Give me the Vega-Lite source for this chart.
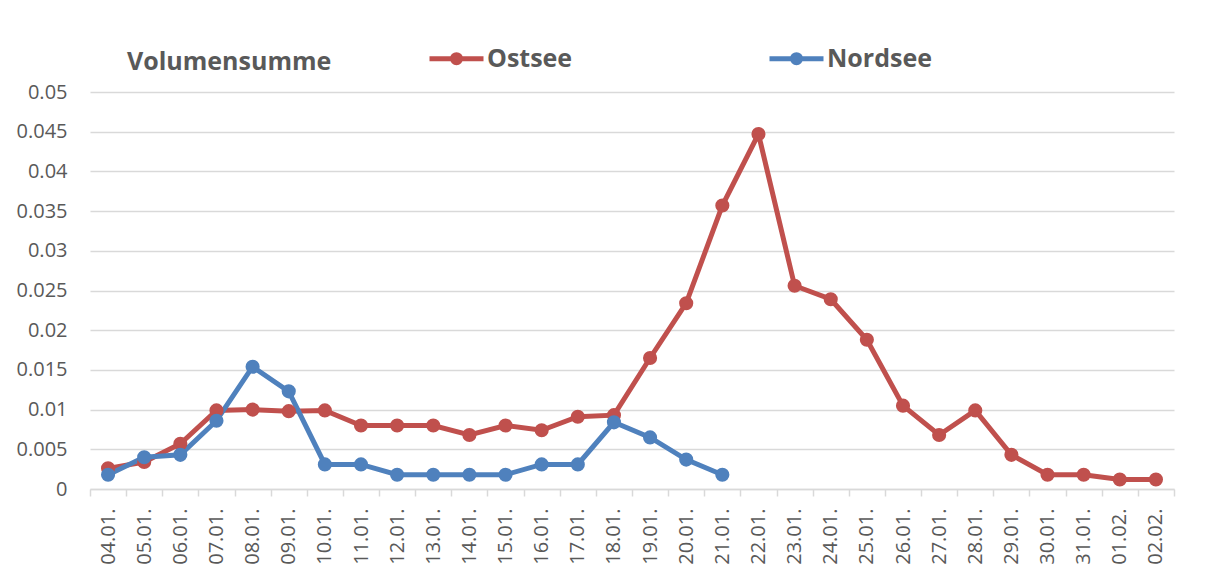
{
  "$schema": "https://vega.github.io/schema/vega-lite/v6.json",
  "autosize": "none",
  "width": 1084,
  "height": 397,
  "padding": {"left": 90, "top": 92, "right": 41, "bottom": 79},
  "background": "white",
  "config": {
    "view": {"stroke": null},
    "font": "Open Sans"
  },
  "data": {
    "values": [
      {"series": "Ostsee", "date": "04.01.", "value": 0.0026},
      {"series": "Ostsee", "date": "05.01.", "value": 0.0034},
      {"series": "Ostsee", "date": "06.01.", "value": 0.0057},
      {"series": "Ostsee", "date": "07.01.", "value": 0.0099},
      {"series": "Ostsee", "date": "08.01.", "value": 0.0100},
      {"series": "Ostsee", "date": "09.01.", "value": 0.0098},
      {"series": "Ostsee", "date": "10.01.", "value": 0.0099},
      {"series": "Ostsee", "date": "11.01.", "value": 0.0080},
      {"series": "Ostsee", "date": "12.01.", "value": 0.0080},
      {"series": "Ostsee", "date": "13.01.", "value": 0.0080},
      {"series": "Ostsee", "date": "14.01.", "value": 0.0068},
      {"series": "Ostsee", "date": "15.01.", "value": 0.0080},
      {"series": "Ostsee", "date": "16.01.", "value": 0.0074},
      {"series": "Ostsee", "date": "17.01.", "value": 0.0091},
      {"series": "Ostsee", "date": "18.01.", "value": 0.0093},
      {"series": "Ostsee", "date": "19.01.", "value": 0.0165},
      {"series": "Ostsee", "date": "20.01.", "value": 0.0234},
      {"series": "Ostsee", "date": "21.01.", "value": 0.0357},
      {"series": "Ostsee", "date": "22.01.", "value": 0.0447},
      {"series": "Ostsee", "date": "23.01.", "value": 0.0256},
      {"series": "Ostsee", "date": "24.01.", "value": 0.0239},
      {"series": "Ostsee", "date": "25.01.", "value": 0.0188},
      {"series": "Ostsee", "date": "26.01.", "value": 0.0105},
      {"series": "Ostsee", "date": "27.01.", "value": 0.0068},
      {"series": "Ostsee", "date": "28.01.", "value": 0.0099},
      {"series": "Ostsee", "date": "29.01.", "value": 0.0043},
      {"series": "Ostsee", "date": "30.01.", "value": 0.0018},
      {"series": "Ostsee", "date": "31.01.", "value": 0.0018},
      {"series": "Ostsee", "date": "01.02.", "value": 0.0012},
      {"series": "Ostsee", "date": "02.02.", "value": 0.0012},
      {"series": "Nordsee", "date": "04.01.", "value": 0.0018},
      {"series": "Nordsee", "date": "05.01.", "value": 0.0040},
      {"series": "Nordsee", "date": "06.01.", "value": 0.0043},
      {"series": "Nordsee", "date": "07.01.", "value": 0.0086},
      {"series": "Nordsee", "date": "08.01.", "value": 0.0154},
      {"series": "Nordsee", "date": "09.01.", "value": 0.0123},
      {"series": "Nordsee", "date": "10.01.", "value": 0.0031},
      {"series": "Nordsee", "date": "11.01.", "value": 0.0031},
      {"series": "Nordsee", "date": "12.01.", "value": 0.0018},
      {"series": "Nordsee", "date": "13.01.", "value": 0.0018},
      {"series": "Nordsee", "date": "14.01.", "value": 0.0018},
      {"series": "Nordsee", "date": "15.01.", "value": 0.0018},
      {"series": "Nordsee", "date": "16.01.", "value": 0.0031},
      {"series": "Nordsee", "date": "17.01.", "value": 0.0031},
      {"series": "Nordsee", "date": "18.01.", "value": 0.0084},
      {"series": "Nordsee", "date": "19.01.", "value": 0.0065},
      {"series": "Nordsee", "date": "20.01.", "value": 0.0037},
      {"series": "Nordsee", "date": "21.01.", "value": 0.0018}
    ]
  },
  "mark": {
    "type": "line",
    "strokeWidth": 5,
    "point": {"filled": true, "size": 200, "opacity": 1}
  },
  "encoding": {
    "x": {
      "field": "date",
      "type": "ordinal",
      "sort": null,
      "bandPosition": 0.5,
      "scale": {"type": "band", "paddingInner": 0, "paddingOuter": 0},
      "axis": {
        "title": null,
        "tickBand": "extent",
        "labelAngle": -90,
        "labelAlign": "right",
        "labelBaseline": "middle",
        "labelFont": "Open Sans",
        "labelFontSize": 20,
        "labelColor": "#595959",
        "labelPadding": 12,
        "tickSize": 7,
        "tickColor": "#d9d9d9",
        "tickWidth": 1.5,
        "domainColor": "#d9d9d9",
        "domainWidth": 1.5,
        "grid": false
      }
    },
    "y": {
      "field": "value",
      "type": "quantitative",
      "scale": {"domain": [0, 0.05], "nice": false, "zero": true},
      "axis": {
        "title": null,
        "values": [0, 0.005, 0.01, 0.015, 0.02, 0.025, 0.03, 0.035, 0.04, 0.045, 0.05],
        "format": ".6~f",
        "ticks": false,
        "domain": false,
        "labelFont": "Open Sans",
        "labelFontSize": 20,
        "labelColor": "#595959",
        "labelPadding": 23,
        "grid": true,
        "gridColor": "#d9d9d9",
        "gridWidth": 1.5
      }
    },
    "color": {
      "field": "series",
      "type": "nominal",
      "scale": {"domain": ["Ostsee", "Nordsee"], "range": ["#C0504D", "#4F81BD"]},
      "legend": {
        "title": "Volumensumme",
        "titleOrient": "left",
        "titleFont": "Open Sans",
        "titleFontSize": 25,
        "titleFontWeight": "bold",
        "titleColor": "#595959",
        "titleLimit": 500,
        "titlePadding": 95,
        "titleBaseline": "middle",
        "titleAnchor": "middle",
        "orient": "none",
        "legendX": 37,
        "legendY": -63,
        "direction": "horizontal",
        "columns": 2,
        "columnPadding": 186,
        "symbolType": "M-1,0L1,0M0.15,0A0.15,0.15,0,1,1,-0.15,0A0.15,0.15,0,1,1,0.15,0",
        "symbolSize": 2916,
        "symbolStrokeWidth": 5,
        "symbolOpacity": 1,
        "labelFont": "Open Sans",
        "labelFontSize": 25,
        "labelFontWeight": "bold",
        "labelColor": "#595959",
        "labelOffset": 1,
        "labelLimit": 300,
        "encode": {
          "title": {"update": {"dy": {"value": 11}}},
          "symbols": {
            "update": {
              "fill": {"scale": "color", "field": "value"},
              "stroke": {"scale": "color", "field": "value"}
            }
          }
        }
      }
    }
  }
}
